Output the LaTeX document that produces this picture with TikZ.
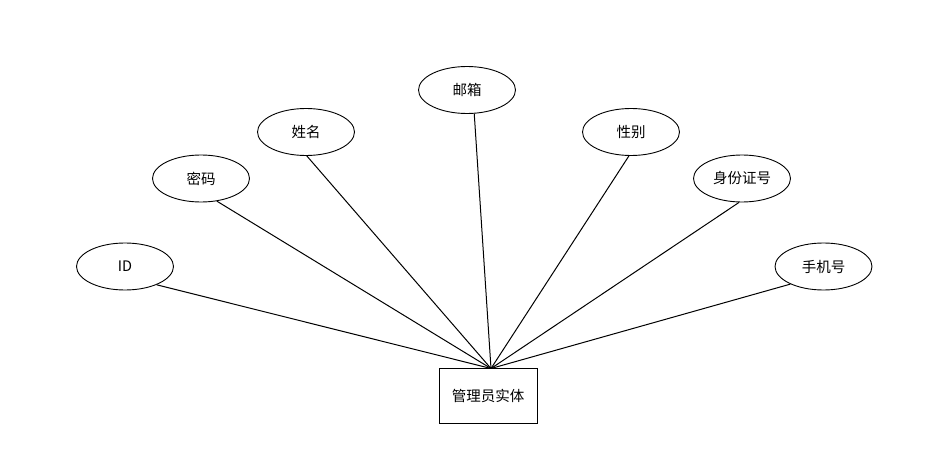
\documentclass[tikz,border=0pt]{standalone}
\usepackage{fontspec}
\setmainfont{Noto Sans CJK SC}
\usetikzlibrary{shapes.geometric}
\tikzset{
  attr/.style={ellipse, draw, line width=0.9pt, minimum width=97pt, minimum height=47pt, inner sep=0pt, font=\fontsize{14.5pt}{16pt}\selectfont},
  ent/.style={rectangle, draw, line width=0.9pt, minimum width=98pt, minimum height=55pt, inner sep=0pt, font=\fontsize{14.5pt}{16pt}\selectfont},
  link/.style={line width=1pt}
}
\begin{document}
\begin{tikzpicture}[x=1pt,y=-1pt]
\path[use as bounding box] (0,0) rectangle (927,468);
\node[ent] (e) at (488,395.5) {管理员实体};
\coordinate (hub) at (491,368.5);
\node[attr] (id) at (125,266.5) {ID};
\node[attr] (pw) at (201,178.5) {密码};
\node[attr] (nm) at (306,132) {姓名};
\node[attr] (em) at (467,90) {邮箱};
\node[attr] (sx) at (631,132) {性别};
\node[attr] (idc) at (742,178.5) {身份证号};
\node[attr] (ph) at (823.5,266.5) {手机号};
\draw[link] (id.-30) -- (hub);
\draw[link] (pw.-55) -- (hub);
\draw[link] (nm.-88) -- (hub);
\draw[link] (em.-73) -- (hub);
\draw[link] (sx.-95) -- (hub);
\draw[link] (idc.-97) -- (hub);
\draw[link] (ph.-152) -- (hub);
\end{tikzpicture}
\end{document}
